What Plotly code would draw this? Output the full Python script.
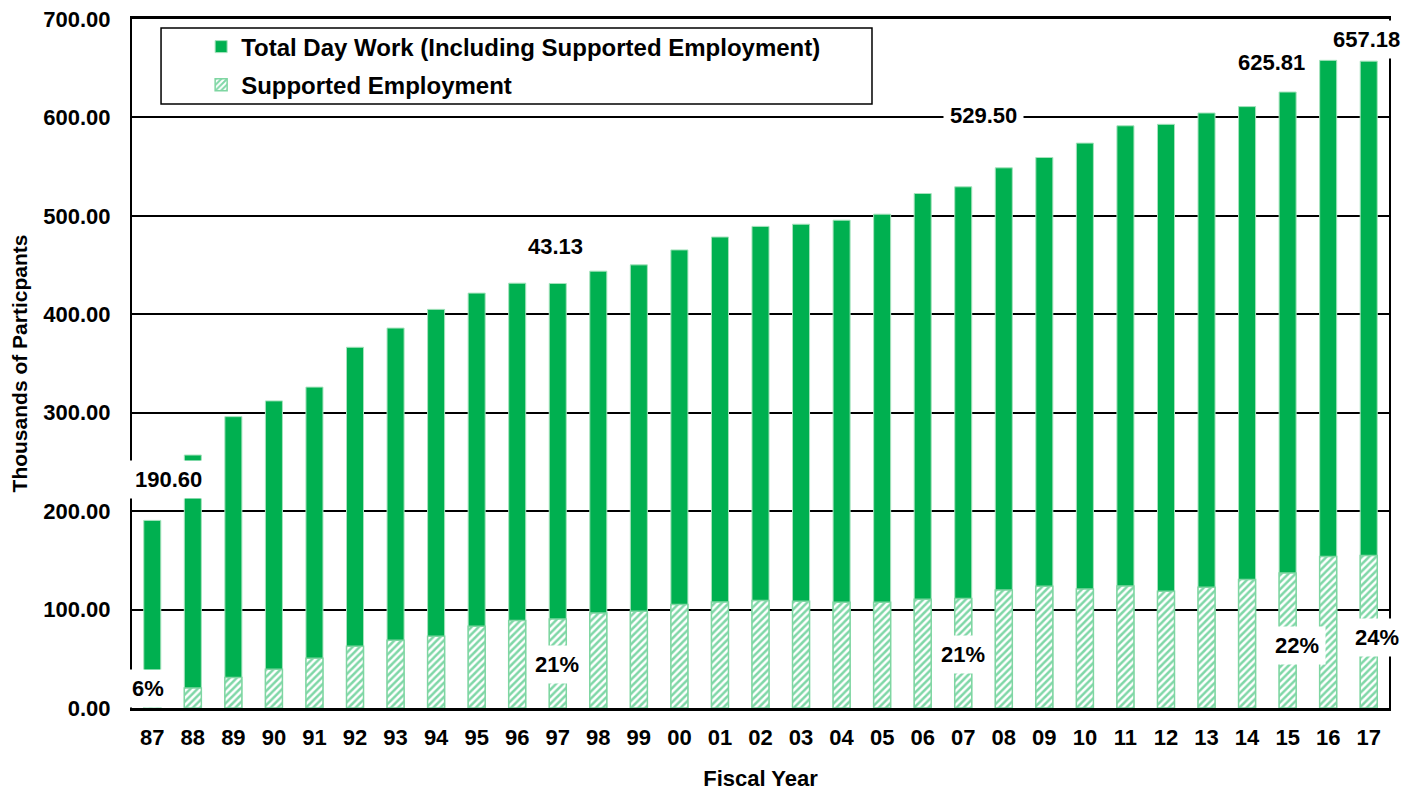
import plotly.graph_objects as go

# fiscal years and values (thousands of participants)
years = ["87", "88", "89", "90", "91", "92", "93", "94", "95", "96", "97", "98", "99", "00", "01",
         "02", "03", "04", "05", "06", "07", "08", "09", "10", "11", "12", "13", "14", "15", "16", "17"]
total_day_work = [190.60, 257.0, 296.0, 312.0, 326.0, 366.5, 386.0, 405.0, 421.5, 431.6, 431.3, 443.8,
                  450.2, 465.4, 478.5, 489.3, 491.5, 495.6, 501.7, 522.7, 529.50, 548.8, 559.3, 573.9,
                  591.5, 593.0, 604.5, 611.0, 625.81, 658.0, 657.18]
supported_emp = [11.4, 20.3, 30.9, 39.3, 50.5, 62.7, 68.8, 72.9, 83.0, 88.8, 90.3, 96.5, 98.3, 105.1,
                 107.7, 109.1, 108.4, 107.4, 107.4, 110.5, 111.2, 119.9, 123.7, 120.9, 124.0, 118.6,
                 122.7, 130.5, 137.2, 154.0, 155.0]

# callouts as they appear on the chart: (text, year, y value, x shift in px)
value_labels = [("190.60", "87", 231.7, 16), ("43.13", "97", 468.5, -2), ("529.50", "07", 602.0, 20),
                ("625.81", "15", 655.5, -16), ("657.18", "17", 678.9, -2)]
pct_labels = [("6%", "87", 20.3, -4), ("21%", "97", 44.7, -1), ("21%", "07", 53.9, 0),
              ("22%", "15", 63.0, 9), ("24%", "17", 72.0, 8)]

GREEN = "#00B050"
FONT = "Liberation Sans, Arial, sans-serif"

fig = go.Figure()
fig.add_trace(go.Bar(
    x=years, y=total_day_work, name="<b>Total Day Work (Including Supported Employment)</b>",
    width=0.42, marker=dict(color=GREEN, line=dict(color="#a6e3bd", width=1)),
    legendgroup="a",
))
fig.add_trace(go.Bar(
    x=years, y=supported_emp, name="<b>Supported Employment</b>",
    width=0.42,
    marker=dict(color="white", line=dict(color="#7fd6a2", width=1.5),
                pattern=dict(shape="/", fgcolor=GREEN, bgcolor="white", size=5, solidity=0.5)),
    legendgroup="b",
))

for txt, yr, yv, dx in value_labels + pct_labels:
    fig.add_annotation(x=years.index(yr), y=yv, xshift=dx, text=f"<b>{txt}</b>", showarrow=False,
                       font=dict(family=FONT, size=22, color="black"),
                       bgcolor="white", borderpad=6)

# legend frame
fig.add_shape(type="rect", xref="paper", yref="paper",
              x0=0.0231, x1=0.5887, y0=0.8766, y1=0.9869,
              line=dict(color="black", width=1.5), fillcolor="white", layer="below")

# page body has an 8px margin, so the figure is 8px smaller than the window
fig.update_layout(
    width=1413, height=785,
    margin=dict(l=124, r=32, t=11, b=85),
    barmode="overlay",
    plot_bgcolor="white", paper_bgcolor="white",
    font=dict(family=FONT, color="black"),
    showlegend=True,
    legend=dict(x=0.055, y=0.992, xanchor="left", yanchor="top",
                bgcolor="rgba(0,0,0,0)", borderwidth=0,
                font=dict(family=FONT, size=24, color="black"),
                traceorder="grouped", tracegroupgap=4, itemwidth=30),
    xaxis=dict(type="category", range=[-0.5, 30.5], automargin=False,
               showline=True, linecolor="black", linewidth=2.5, mirror=True,
               ticks="", tickangle=0, tickfont=dict(family=FONT, size=22, color="black"),
               ticklabelstandoff=8,
               title=dict(text="<b>Fiscal Year</b>", font=dict(family=FONT, size=22), standoff=22),
               tickprefix="<b>", ticksuffix="</b>"),
    yaxis=dict(range=[0, 700], dtick=100, tickformat=".2f", automargin=False,
               ticklabeloverflow="allow",
               showgrid=True, gridcolor="black",
               gridwidth=2, showline=True, linecolor="black", linewidth=2, mirror=True,
               zeroline=False, ticks="", tickfont=dict(family=FONT, size=22, color="black"),
               ticklabelstandoff=15, tickprefix="<b>", ticksuffix="</b>",
               title=dict(text="<b>Thousands of Particpants</b>", font=dict(family=FONT, size=21),
                          standoff=16)),
)

fig.write_html("out.html")
